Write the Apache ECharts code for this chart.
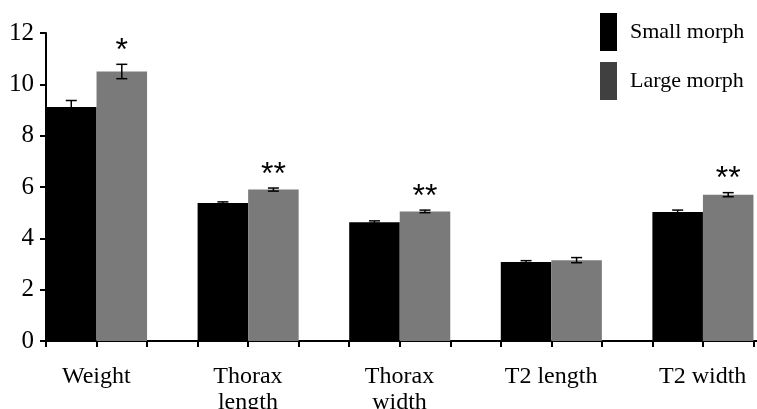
<!DOCTYPE html>
<html>
<head>
<meta charset="utf-8">
<script src="https://cdn.jsdelivr.net/npm/echarts@6/dist/echarts.min.js"></script>
<style>
  html, body { margin: 0; padding: 0; background: #fff; }
  #chart { width: 757px; height: 409px; }
</style>
</head>
<body>
<div id="chart"></div>
<script>
// data
const categories = ['Weight', 'Thorax\nlength', 'Thorax\nwidth', 'T2 length', 'T2 width'];
const smallMean = [9.12, 5.38, 4.63, 3.08, 5.03];
const smallErr = [0.25, 0.04, 0.05, 0.05, 0.07];
const largeMean = [10.5, 5.9, 5.05, 3.15, 5.7];
const largeErr = [0.28, 0.06, 0.05, 0.1, 0.08];
const signif = ['*', '**', '**', '', '**'];
const yTicks = { min: 0, max: 12, interval: 2 };

const serif = 'Liberation Serif';
const black = '#000000';
const gray = '#7a7a7a';

// one slot per bar position (small, large, gap) for the tick marks
const slots = [];
categories.forEach((c, i) => { slots.push(i + 's', i + 'l', i + 'g'); });

let myChart = echarts.init(document.getElementById('chart'));

// error bar + significance marks, placed via the category scale
function errorRenderer(means, errs, shift, marks) {
    return function (params, api) {
        const i = api.value(0);
        const bw = api.size([1, 0])[0];
        const cx = api.coord([i, 0])[0] + shift * bw;
        const top = api.coord([i, means[i] + errs[i]])[1];
        const bot = api.coord([i, means[i] - errs[i]])[1];
        const cap = 5.5;
        const style = { stroke: '#000', lineWidth: 1.5 };
        const children = [
            { type: 'line', shape: { x1: cx, y1: top, x2: cx, y2: bot }, style },
            { type: 'line', shape: { x1: cx - cap, y1: top, x2: cx + cap, y2: top }, style },
            { type: 'line', shape: { x1: cx - cap, y1: bot, x2: cx + cap, y2: bot }, style }
        ];
        if (marks && marks[i]) {
            children.push({
                type: 'text',
                style: {
                    x: cx, y: top - 29, text: marks[i],
                    fill: '#000', font: '32px "Liberation Sans"',
                    textAlign: 'center', textVerticalAlign: 'top'
                }
            });
        }
        return { type: 'group', children };
    };
}

let option = {
    animation: false,
    grid: {
        left: 46,
        top: 33,
        right: -47,
        height: 308,
        containLabel: false,
        outerBoundsMode: 'none'
    },
    legend: {
        left: 600,
        top: 13,
        padding: 0,
        orient: 'vertical',
        icon: 'rect',
        itemWidth: 17,
        itemHeight: 38,
        itemGap: 11,
        textStyle: { fontFamily: serif, fontSize: 22, color: '#000', padding: [0, 0, 0, 8] },
        data: [
            { name: 'Small morph', itemStyle: { color: black } },
            { name: 'Large morph', itemStyle: { color: '#404040' } }
        ]
    },
    xAxis: [{
        type: 'category',
        data: categories,
        axisLine: { lineStyle: { color: '#000', width: 2 } },
        axisTick: { show: false },
        axisLabel: {
            fontFamily: serif,
            fontSize: 24,
            lineHeight: 26,
            color: '#000',
            margin: 23,
            interval: 0,
            padding: [0, 51, 0, 0]
        }
    }, {
        type: 'category',
        position: 'bottom',
        data: slots,
        axisLine: { show: false },
        axisTick: { show: true, interval: 0, length: 6, lineStyle: { color: '#000', width: 2 } },
        axisLabel: { show: false, interval: 0 }
    }],
    yAxis: {
        type: 'value',
        min: yTicks.min,
        max: yTicks.max,
        interval: yTicks.interval,
        axisLine: { show: true, lineStyle: { color: '#000', width: 2 } },
        axisTick: { show: true, length: 6, lineStyle: { color: '#000', width: 2 } },
        splitLine: { show: false },
        axisLabel: { fontFamily: serif, fontSize: 25, color: '#000', margin: 12 }
    },
    series: [{
        name: 'Small morph',
        type: 'bar',
        data: smallMean,
        barGap: 0,
        barCategoryGap: 0,
        itemStyle: { color: black }
    }, {
        name: 'Large morph',
        type: 'bar',
        data: largeMean,
        barGap: 0,
        barCategoryGap: 0,
        itemStyle: { color: gray }
    }, {
        name: 'gap',
        type: 'bar',
        data: categories.map(() => '-'),
        barGap: 0,
        barCategoryGap: 0,
        itemStyle: { color: 'transparent' }
    }, {
        type: 'custom',
        renderItem: errorRenderer(smallMean, smallErr, -1 / 3, null),
        data: categories.map((c, i) => [i]),
        z: 10
    }, {
        type: 'custom',
        renderItem: errorRenderer(largeMean, largeErr, 0, signif),
        data: categories.map((c, i) => [i]),
        z: 10
    }]
};

myChart.setOption(option);
</script>
</body>
</html>
